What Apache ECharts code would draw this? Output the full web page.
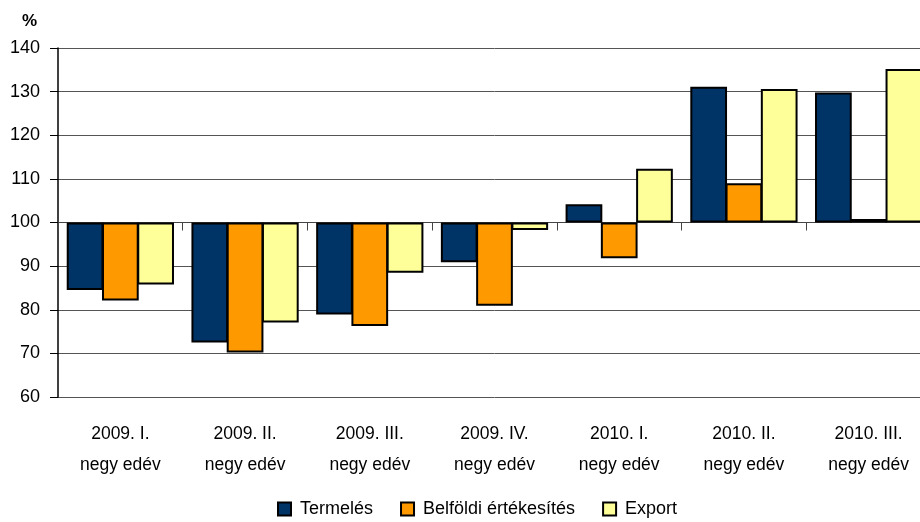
<!DOCTYPE html>
<html><head><meta charset="utf-8">
<script src="https://cdn.jsdelivr.net/npm/echarts@6/dist/echarts.min.js"></script>
<style>html,body{margin:0;padding:0;background:#fff;overflow:hidden;width:920px;height:522px}#c{width:931px;height:522px}</style>
</head><body><div id="c"></div>
<script>
const categories = ['2009. I.\nnegy edév','2009. II.\nnegy edév','2009. III.\nnegy edév','2009. IV.\nnegy edév','2010. I.\nnegy edév','2010. II.\nnegy edév','2010. III.\nnegy edév'];
const termeles = [84.5, 72.5, 78.9, 90.9, 104.2, 131.1, 129.8];
const belfoldi = [82.1, 70.2, 76.3, 80.9, 91.8, 109.0, 100.8];
const exportV = [85.8, 77.1, 88.5, 98.3, 112.3, 130.6, 135.2];
const BASE = 100;
const font = 'Liberation Sans, Arial, sans-serif';
const chart = echarts.init(document.getElementById('c'));
function ser(name, vals, color){
  return {name, type:'bar', barGap:'-4%', barCategoryGap:'14%',
    data: vals.map(v => +(v-BASE).toFixed(2)),
    itemStyle:{color, borderColor:'#000', borderWidth:2}};
}
chart.setOption({
  animation:false,
  title:{text:'%', left:17, top:8, textStyle:{fontFamily:font, fontSize:17, fontWeight:'bold', color:'#000'}},
  grid:{left:58, top:48, right:0, bottom:125, containLabel:false},
  legend:{bottom:4, left:277, padding:0, itemWidth:13, itemHeight:13, itemGap:27,
    textStyle:{fontFamily:font, fontSize:18, color:'#000', padding:[0,0,0,4]}, icon:'rect'},
  xAxis:[
    {type:'category', data:categories, position:'bottom',
     axisLine:{onZero:true, onZeroAxisIndex:0, lineStyle:{color:'#444', width:1}},
     axisTick:{show:true, length:8, lineStyle:{color:'#444'}},
     axisLabel:{show:false}},
    {type:'category', data:categories, position:'bottom',
     axisLine:{show:false, onZero:false}, axisTick:{show:false},
     axisLabel:{margin:22, fontFamily:font, fontSize:17.5, color:'#000', lineHeight:31}}
  ],
  yAxis:{type:'value', min:-40, max:40, interval:10,
    axisLine:{show:true, lineStyle:{color:'#000', width:1.5}},
    axisTick:{show:true, length:8, lineStyle:{color:'#000'}},
    splitLine:{lineStyle:{color:'#555', width:1}},
    axisLabel:{margin:18, fontFamily:font, fontSize:18, color:'#000', formatter:v => String(v+BASE)}},
  series:[
    ser('Termelés', termeles, '#003366'),
    ser('Belföldi értékesítés', belfoldi, '#FF9900'),
    ser('Export', exportV, '#FFFF99')
  ]
});
</script></body></html>
